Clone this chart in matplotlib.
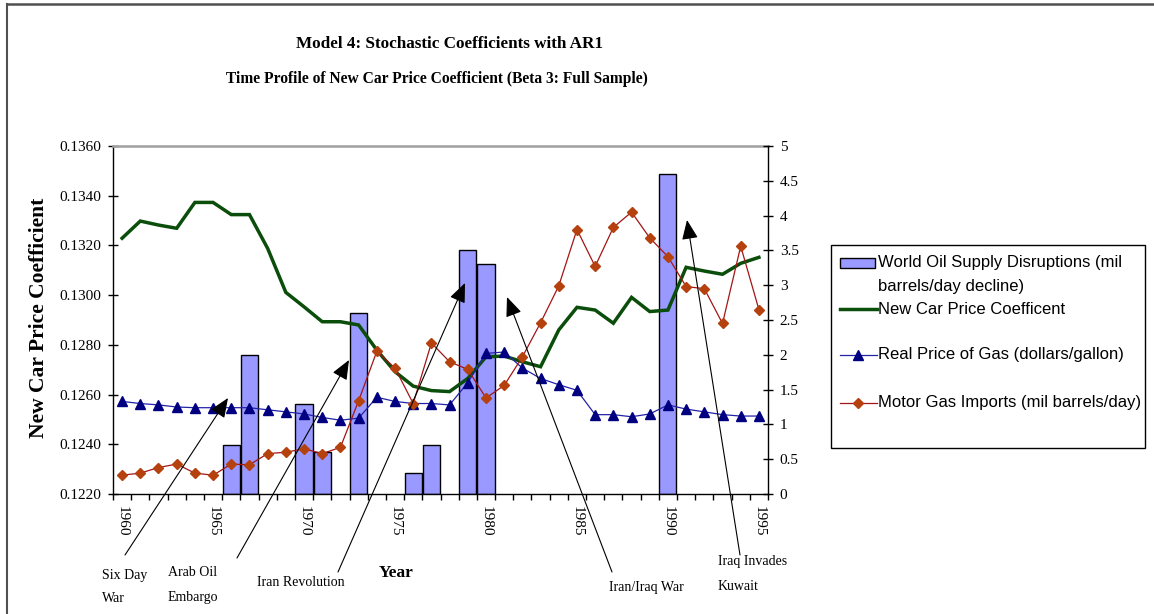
import numpy as np
import matplotlib
matplotlib.use("Agg")
import matplotlib.pyplot as plt
from matplotlib.patches import Rectangle
from matplotlib.lines import Line2D
from matplotlib.ticker import FuncFormatter

plt.rcParams['font.family'] = ['Liberation Serif', 'DejaVu Serif']

years = list(range(1960, 1996))

# new car price coefficient (left axis)
coef = [0.13229, 0.13298, 0.13282, 0.13269, 0.13373, 0.13373, 0.13324, 0.13324,
        0.13188, 0.13011, 0.12953, 0.12893, 0.12893, 0.12880, 0.12779, 0.12692,
        0.12634, 0.12616, 0.12612, 0.12665, 0.12752, 0.12755, 0.12732, 0.12712,
        0.12860, 0.12951, 0.12940, 0.12887, 0.12991, 0.12934, 0.12940, 0.13112,
        0.13097, 0.13084, 0.13128, 0.13152]

# real price of gas, dollars/gallon (right axis)
gas_price = [1.33, 1.30, 1.28, 1.25, 1.24, 1.24, 1.24, 1.24, 1.21, 1.18, 1.15, 1.10,
             1.06, 1.09, 1.39, 1.33, 1.30, 1.30, 1.28, 1.60, 2.02, 2.04, 1.81, 1.66,
             1.57, 1.49, 1.14, 1.14, 1.11, 1.15, 1.28, 1.22, 1.18, 1.14, 1.12, 1.12]

# motor gas imports, mil barrels/day (right axis)
imports = [0.27, 0.30, 0.38, 0.43, 0.30, 0.27, 0.43, 0.42, 0.58, 0.60, 0.65, 0.58,
           0.67, 1.34, 2.05, 1.81, 1.30, 2.17, 1.90, 1.79, 1.38, 1.56, 1.97, 2.46,
           2.99, 3.80, 3.27, 3.83, 4.05, 3.68, 3.41, 2.98, 2.95, 2.45, 3.56, 2.65]

# world oil supply disruptions, mil barrels/day decline (right axis)
disrupt_years = [1966, 1967, 1970, 1971, 1973, 1976, 1977, 1979, 1980, 1990]
disrupt = [0.7, 2.0, 1.3, 0.6, 2.6, 0.3, 0.7, 3.5, 3.3, 4.6]

events = [
    (["Six Day", "War"], (102, [575, 598]), (125, 555), (228, 398)),
    (["Arab Oil", "Embargo"], (168, [572, 597]), (237, 558), (349, 360)),
    (["Iran Revolution"], (257, [583]), (338, 572), (465, 283)),
    (["Iran/Iraq War"], (609, [587]), (612, 572), (507, 297)),
    (["Iraq Invades", "Kuwait"], (718, [561, 587]), (740, 555), (687, 220)),
]

W, H = 1154, 614


def fx(px):
    return px / W


def fy(py):
    return 1 - py / H


fig = plt.figure(figsize=(W / 100, H / 100), dpi=100)

ax = fig.add_axes([fx(113), fy(494), fx(768) - fx(113), fy(146) - fy(494)])
axb = ax.twinx()
ax2 = ax.twinx()
axb.set_zorder(1)
ax.set_zorder(2)
ax2.set_zorder(3)
for a in (ax, ax2):
    a.patch.set_visible(False)

x = np.arange(len(years))
bar_x = [years.index(y) for y in disrupt_years]

axb.bar(bar_x, disrupt, width=0.94, color='#9999ff', edgecolor='black', linewidth=1)
axb.set_ylim(0, 5)
axb.axis('off')

ax.plot(x, coef, color='#0b4d0b', lw=2.5, solid_joinstyle='miter')
ax.set_ylim(0.122, 0.136)
ax.set_yticks(np.arange(0.122, 0.13601, 0.002))
ax.yaxis.set_major_formatter(FuncFormatter(lambda v, p: '%.4f' % v))

ax2.plot(x, gas_price, color='#2323a8', lw=0.9, marker='^', ms=7,
         mfc='#000080', mec='#000080')
ax2.plot(x, imports, color='#a31515', lw=0.9, marker='D', ms=5,
         mfc='#b4410e', mec='#b4410e')
ax2.set_ylim(0, 5)
ax2.set_yticks(np.arange(0, 5.01, 0.5))
ax2.yaxis.set_major_formatter(FuncFormatter(lambda v, p: '%g' % v))

ax.set_xlim(-0.5, len(years) - 0.5)
ax.set_xticks(x[::5])
ax.set_xticklabels([str(y) for y in years[::5]], rotation=-90)
ax.set_xticks(np.arange(-0.5, len(years)), minor=True)
ax.tick_params(axis='x', which='major', length=0, pad=9, labelsize=11)
ax.tick_params(axis='x', which='minor', length=4, direction='out', width=1)
ax.tick_params(axis='y', length=7, direction='inout', width=1, pad=5, labelsize=11)
ax2.tick_params(axis='y', length=7, direction='inout', width=1, pad=5, labelsize=11)

ax.spines['top'].set_color('#a0a0a0')
ax.spines['top'].set_linewidth(1.8)
ax.spines['right'].set_visible(False)
for s in ('top', 'left', 'bottom'):
    ax2.spines[s].set_visible(False)
for s in ('left', 'bottom'):
    ax.spines[s].set_linewidth(1)
ax2.spines['right'].set_linewidth(1)

# titles and axis names
fig.text(fx(450), fy(44), 'Model 4: Stochastic Coefficients with AR1',
         ha='center', va='center', fontsize=12.3, fontweight='bold')
fig.text(fx(437), fy(79), 'Time Profile of New Car Price Coefficient (Beta 3: Full Sample)',
         ha='center', va='center', fontsize=11.2, fontweight='bold')
fig.text(fx(39), fy(318), 'New Car Price Coefficient', rotation=90,
         ha='center', va='center', fontsize=15.5, fontweight='bold')
fig.text(fx(396), fy(573), 'Year', ha='center', va='center',
         fontsize=12.5, fontweight='bold')

# event labels with arrows
for lines, (tx, tys), tail, head in events:
    for line, ty in zip(lines, tys):
        fig.text(fx(tx), fy(ty), line, ha='left', va='center', fontsize=10)
    ax2.annotate('', xy=(fx(head[0]), fy(head[1])), xycoords='figure fraction',
                 xytext=(fx(tail[0]), fy(tail[1])), textcoords='figure fraction',
                 arrowprops=dict(arrowstyle='-|>,head_length=1.2,head_width=0.5',
                                 color='black', lw=0.8, shrinkA=0, shrinkB=0),
                 annotation_clip=False)

# legend box
fig.add_artist(Rectangle((fx(831), fy(448)), fx(1145) - fx(831), fy(245) - fy(448),
                         transform=fig.transFigure, facecolor='white',
                         edgecolor='black', lw=1))
fig.add_artist(Rectangle((fx(840), fy(268)), fx(875) - fx(840), fy(258) - fy(268),
                         transform=fig.transFigure, facecolor='#9999ff',
                         edgecolor='black', lw=1))
fig.add_artist(Line2D([fx(840), fx(877)], [fy(309), fy(309)], transform=fig.transFigure,
                      color='#0b4d0b', lw=2.5))
fig.add_artist(Line2D([fx(840), fx(877)], [fy(355), fy(355)], transform=fig.transFigure,
                      color='#2323a8', lw=0.9))
fig.add_artist(Line2D([fx(858)], [fy(355)], transform=fig.transFigure, marker='^',
                      ms=7, mfc='#000080', mec='#000080', lw=0))
fig.add_artist(Line2D([fx(840), fx(877)], [fy(403), fy(403)], transform=fig.transFigure,
                      color='#a31515', lw=0.9))
fig.add_artist(Line2D([fx(858)], [fy(403)], transform=fig.transFigure, marker='D',
                      ms=5, mfc='#b4410e', mec='#b4410e', lw=0))

leg_font = dict(fontsize=12, family='Liberation Sans', ha='left', va='center')
fig.text(fx(878), fy(263), 'World Oil Supply Disruptions (mil', **leg_font)
fig.text(fx(878), fy(287), 'barrels/day decline)', **leg_font)
fig.text(fx(878), fy(309), 'New Car Price Coefficent', **leg_font)
fig.text(fx(878), fy(355), 'Real Price of Gas (dollars/gallon)', **leg_font)
fig.text(fx(878), fy(403), 'Motor Gas Imports (mil barrels/day)', **leg_font)

# chart area frame
fig.add_artist(Line2D([fx(7), 1], [fy(4), fy(4)], transform=fig.transFigure,
                      color='#505050', lw=1.8))
fig.add_artist(Line2D([fx(7), fx(7)], [fy(4), 0], transform=fig.transFigure,
                      color='#505050', lw=1.5))

fig.savefig('out.png', dpi=100)
